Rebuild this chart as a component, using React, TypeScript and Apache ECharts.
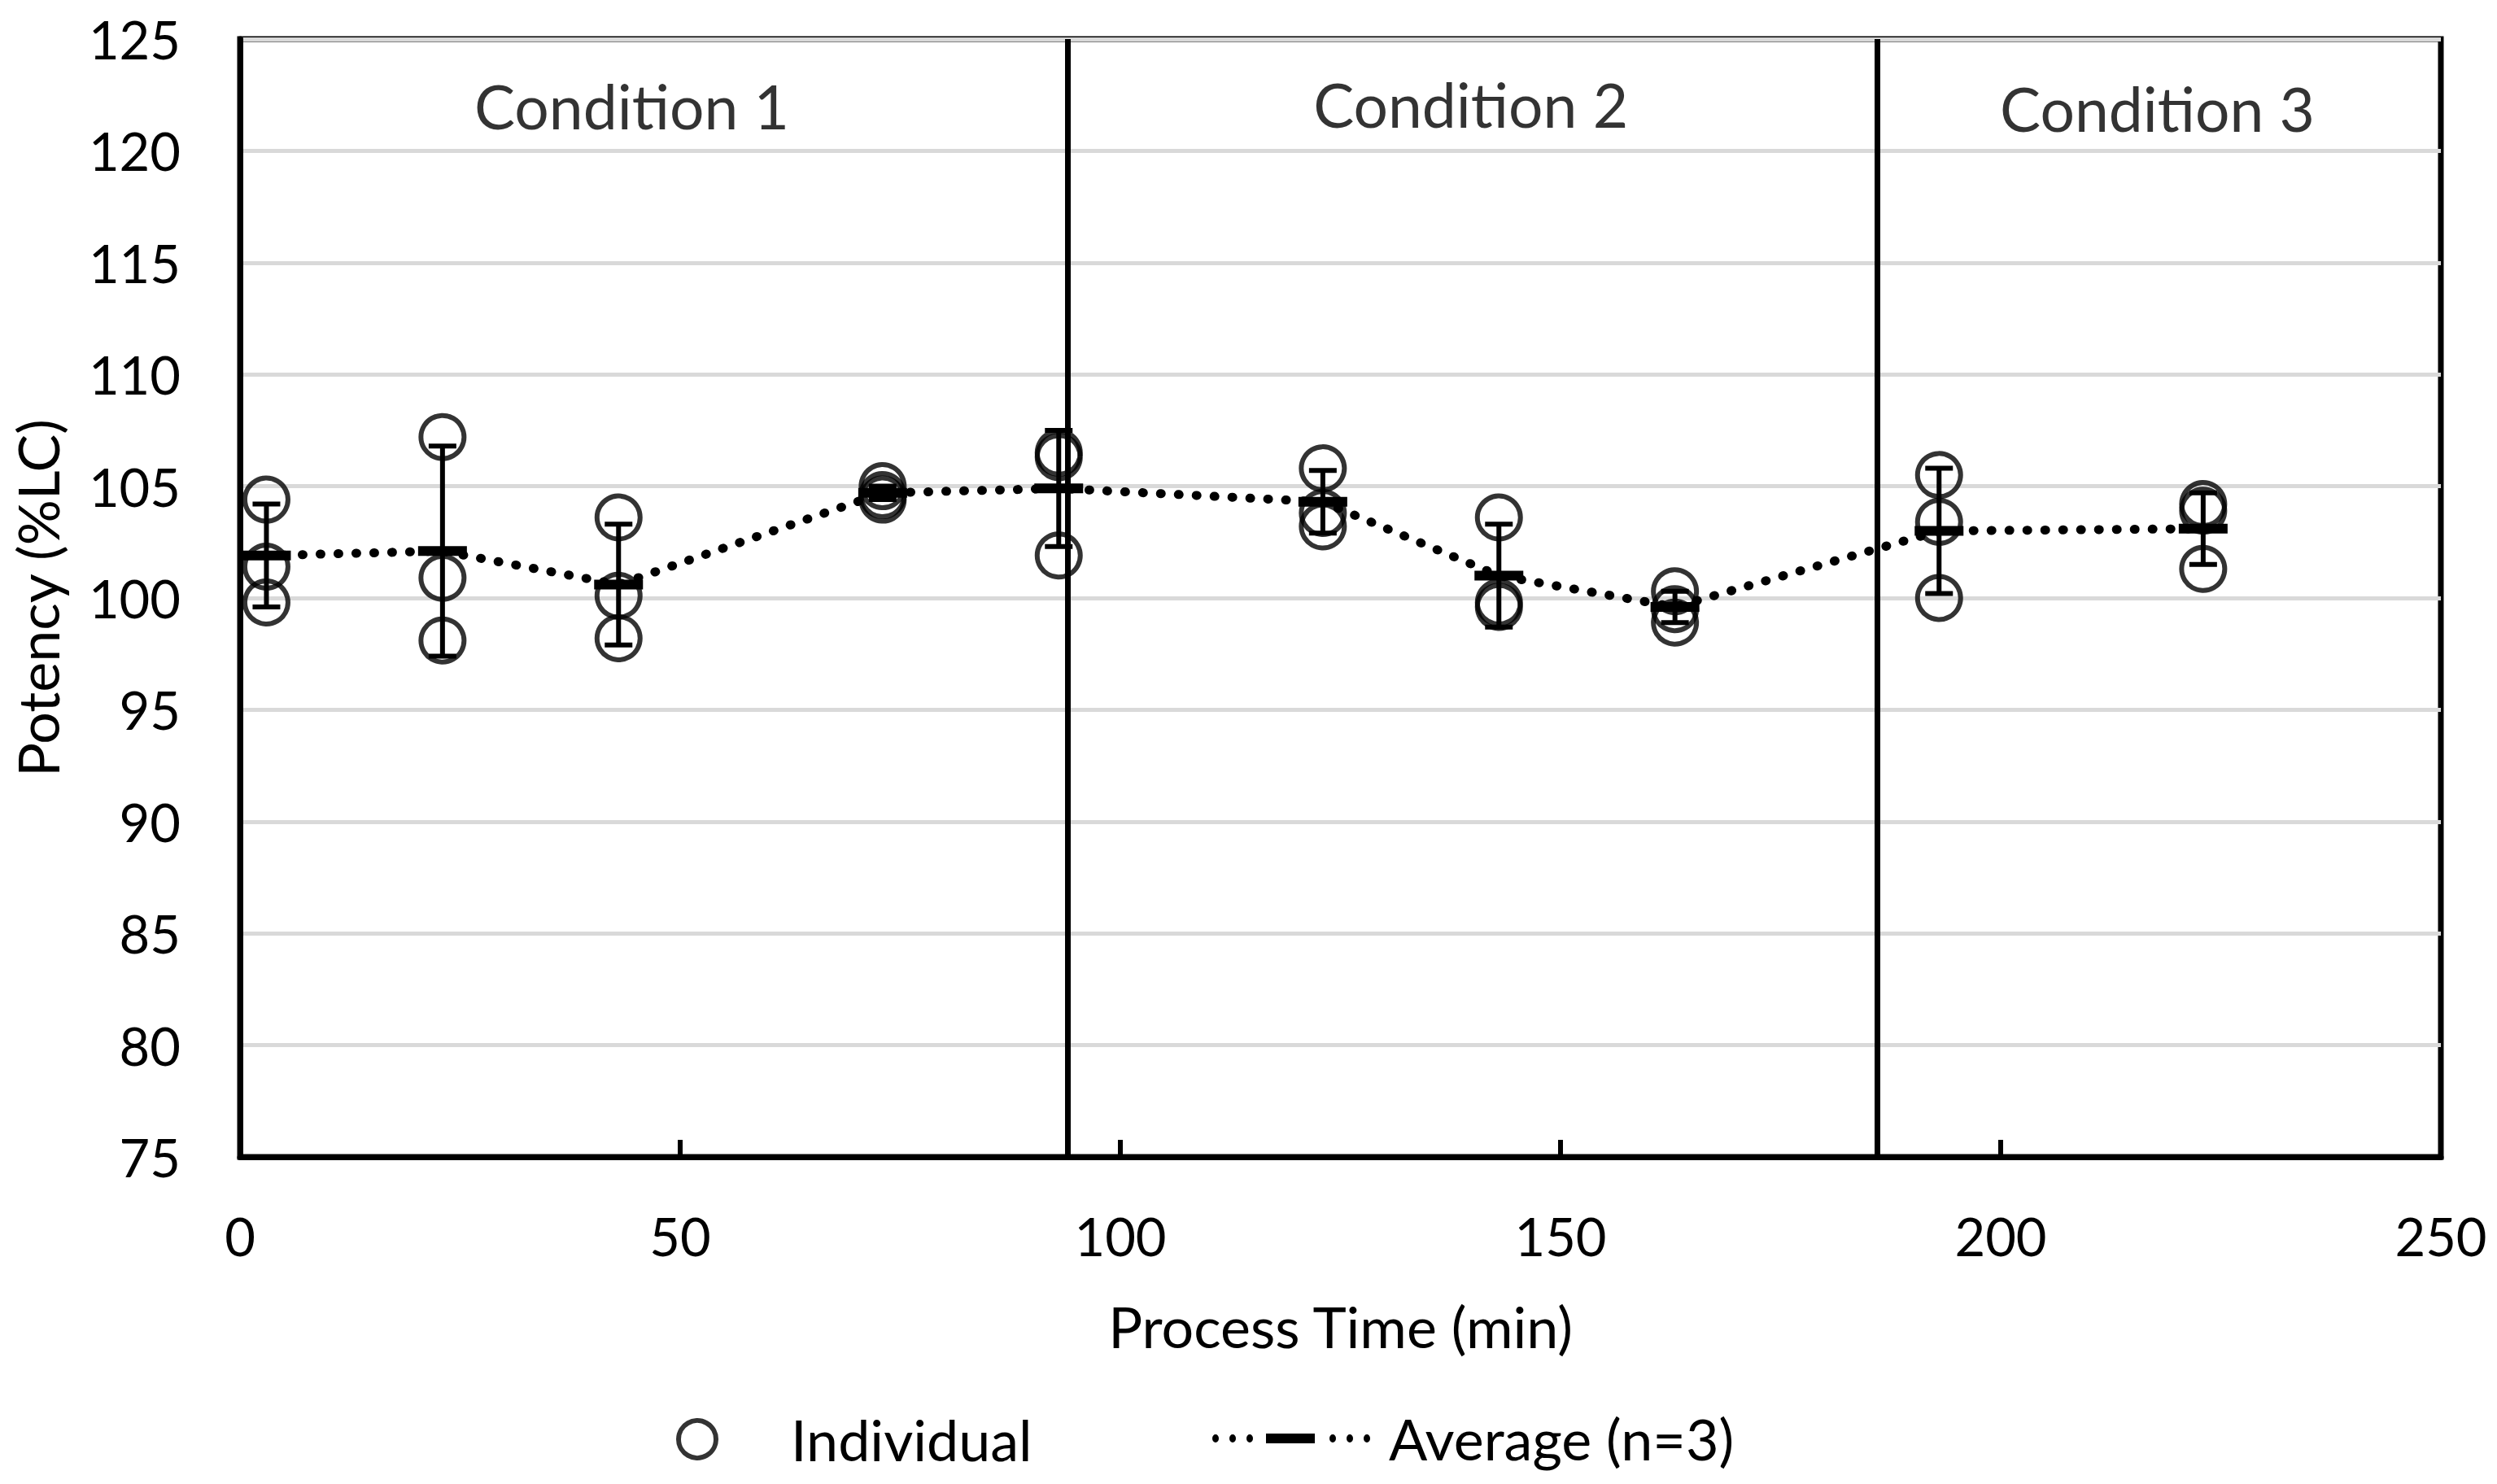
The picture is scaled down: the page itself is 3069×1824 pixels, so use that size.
import React, { useEffect, useRef } from "react";
import * as echarts from "echarts";

// ---- data ----
const times = [3, 23, 43, 73, 93, 123, 143, 163, 193, 223];
const rep1 = [104.4, 107.2, 103.6, 105.0, 106.5, 105.8, 103.6, 100.3, 105.5, 104.2];
const rep2 = [101.4, 100.9, 100.1, 104.6, 106.3, 103.8, 99.8, 99.5, 103.4, 103.9];
const rep3 = [99.8, 98.1, 98.2, 104.4, 101.9, 103.2, 99.6, 98.9, 100.0, 101.3];
const average = [101.9, 102.1, 100.6, 104.7, 104.9, 104.3, 101.0, 99.6, 103.0, 103.1];
const stdDev = [2.3, 4.7, 2.7, 0.3, 2.6, 1.4, 2.3, 0.7, 2.8, 1.6];

const conditionBoundaries = [94, 186];
const conditionLabels = ["Condition 1", "Condition 2", "Condition 3"];
const conditionLabelX = [44.5, 139.8, 217.8];
const conditionLabelY = [122.0, 122.1, 121.9];

const xTicks = { min: 0, max: 250, interval: 50 };
const yTicks = { min: 75, max: 125, interval: 5 };

const FONT = "Lato";
const FS_TICK = 65;
const FS = 70;

const avgLegendIcon =
  "path://M0,6a4,5 0 1,0 8,0a4,5 0 1,0 -8,0z" +
  "M21,6a4,5 0 1,0 8,0a4,5 0 1,0 -8,0z" +
  "M42,6a4,5 0 1,0 8,0a4,5 0 1,0 -8,0z" +
  "M66,0h60v12h-60z" +
  "M144,6a4,5 0 1,0 8,0a4,5 0 1,0 -8,0z" +
  "M165,6a4,5 0 1,0 8,0a4,5 0 1,0 -8,0z" +
  "M186,6a4,5 0 1,0 8,0a4,5 0 1,0 -8,0z";

export default function App() {
  const ref = useRef<HTMLDivElement>(null);

  useEffect(() => {
    const chart = echarts.init(ref.current!, null, { renderer: "svg" });

    const individualData: number[][] = [];
    times.forEach((t, i) => {
      individualData.push([t, rep1[i]]);
      individualData.push([t, rep2[i]]);
      individualData.push([t, rep3[i]]);
    });
    const avgData = times.map((t, i) => [t, average[i]]);
    const errData = times.map((t, i) => [t, average[i] - stdDev[i], average[i] + stdDev[i]]);
    const labelData = conditionLabels.map((n, i) => ({
      name: n,
      value: [conditionLabelX[i], conditionLabelY[i]],
    }));

    const option: any = {
      animation: false,
      backgroundColor: "#fff",
      textStyle: { fontFamily: FONT, color: "#000" },
      grid: {
        left: 295,
        right: 69,
        top: 48,
        bottom: 402,
        show: true,
        borderColor: "#000",
        borderWidth: 7,
        backgroundColor: "transparent",
      },
      legend: [
        {
          left: 826,
          top: 1729,
          itemWidth: 46,
          itemHeight: 46,
          selectedMode: false,
          textStyle: { fontFamily: FONT, fontSize: FS, color: "#000", padding: [0, 0, 0, 87] },
          data: [
            {
              name: "Individual",
              icon: "circle",
              itemStyle: { color: "transparent", borderColor: "#000", borderWidth: 6 },
            },
          ],
        },
        {
          left: 1485,
          top: 1728,
          itemWidth: 194,
          itemHeight: 12,
          selectedMode: false,
          textStyle: { fontFamily: FONT, fontSize: FS, color: "#000", padding: [0, 0, 0, 18] },
          data: [
            {
              name: "Average (n=3)",
              icon: avgLegendIcon,
              itemStyle: { color: "#000", borderWidth: 0 },
            },
          ],
        },
      ],
      xAxis: {
        type: "value",
        min: xTicks.min,
        max: xTicks.max,
        interval: xTicks.interval,
        name: "Process Time (min)",
        nameLocation: "middle",
        nameGap: 173,
        nameTextStyle: { fontFamily: FONT, fontSize: FS, color: "#000" },
        axisLine: { show: true, onZero: false, lineStyle: { color: "#000", width: 7 } },
        axisTick: { show: true, inside: true, length: 21, lineStyle: { color: "#000", width: 6 } },
        axisLabel: { fontFamily: FONT, fontSize: FS_TICK, color: "#000", margin: 64 },
        splitLine: { show: false },
      },
      yAxis: {
        type: "value",
        min: yTicks.min,
        max: yTicks.max,
        interval: yTicks.interval,
        name: "Potency (%LC)",
        nameLocation: "middle",
        nameRotate: 90,
        nameGap: 214,
        nameTextStyle: { fontFamily: FONT, fontSize: FS, color: "#000" },
        axisLine: { show: true, onZero: false, lineStyle: { color: "#000", width: 7 } },
        axisTick: { show: false },
        axisLabel: { fontFamily: FONT, fontSize: FS_TICK, color: "#000", margin: 73 },
        splitLine: { show: true, lineStyle: { color: "#d9d9d9", width: 5 } },
      },
      series: [
        {
          name: "boundaries",
          type: "line",
          data: [],
          silent: true,
          z: 1,
          markLine: {
            silent: true,
            symbol: ["none", "none"],
            label: { show: false },
            lineStyle: { color: "#000", width: 7, type: "solid" },
            data: conditionBoundaries.map((b) => ({ xAxis: b })),
          },
        },
        {
          name: "errorbars",
          type: "custom",
          z: 2,
          silent: true,
          data: errData,
          renderItem: (params: any, api: any) => {
            const x = api.value(0);
            const lo = api.coord([x, api.value(1)]);
            const hi = api.coord([x, api.value(2)]);
            const hw = 17;
            const st = { stroke: "#000", lineWidth: 6 };
            return {
              type: "group",
              children: [
                { type: "line", shape: { x1: hi[0], y1: hi[1], x2: lo[0], y2: lo[1] }, style: st },
                { type: "line", shape: { x1: hi[0] - hw, y1: hi[1], x2: hi[0] + hw, y2: hi[1] }, style: st },
                { type: "line", shape: { x1: lo[0] - hw, y1: lo[1], x2: lo[0] + hw, y2: lo[1] }, style: st },
              ],
            };
          },
        },
        {
          name: "Individual",
          type: "scatter",
          z: 3,
          symbol: "circle",
          symbolSize: 53,
          itemStyle: { color: "transparent", borderColor: "#000", borderWidth: 6 },
          data: individualData,
        },
        {
          name: "Average (n=3)",
          type: "line",
          z: 4,
          symbol: "rect",
          symbolSize: [60, 12],
          itemStyle: { color: "#000" },
          lineStyle: { color: "#000", width: 11, type: [1, 21], cap: "round" },
          data: avgData,
        },
        {
          name: "conditions",
          type: "scatter",
          z: 5,
          silent: true,
          symbolSize: 0,
          data: labelData,
          label: {
            show: true,
            position: "inside",
            formatter: "{b}",
            fontFamily: FONT,
            fontSize: 75,
            color: "#000",
          },
        },
      ],
    };

    chart.setOption(option);
    return () => chart.dispose();
  }, []);

  return (
    <div
      ref={ref}
      style={{ position: "fixed", left: 0, top: 0, width: 3069, height: 1824, background: "#fff" }}
    />
  );
}
